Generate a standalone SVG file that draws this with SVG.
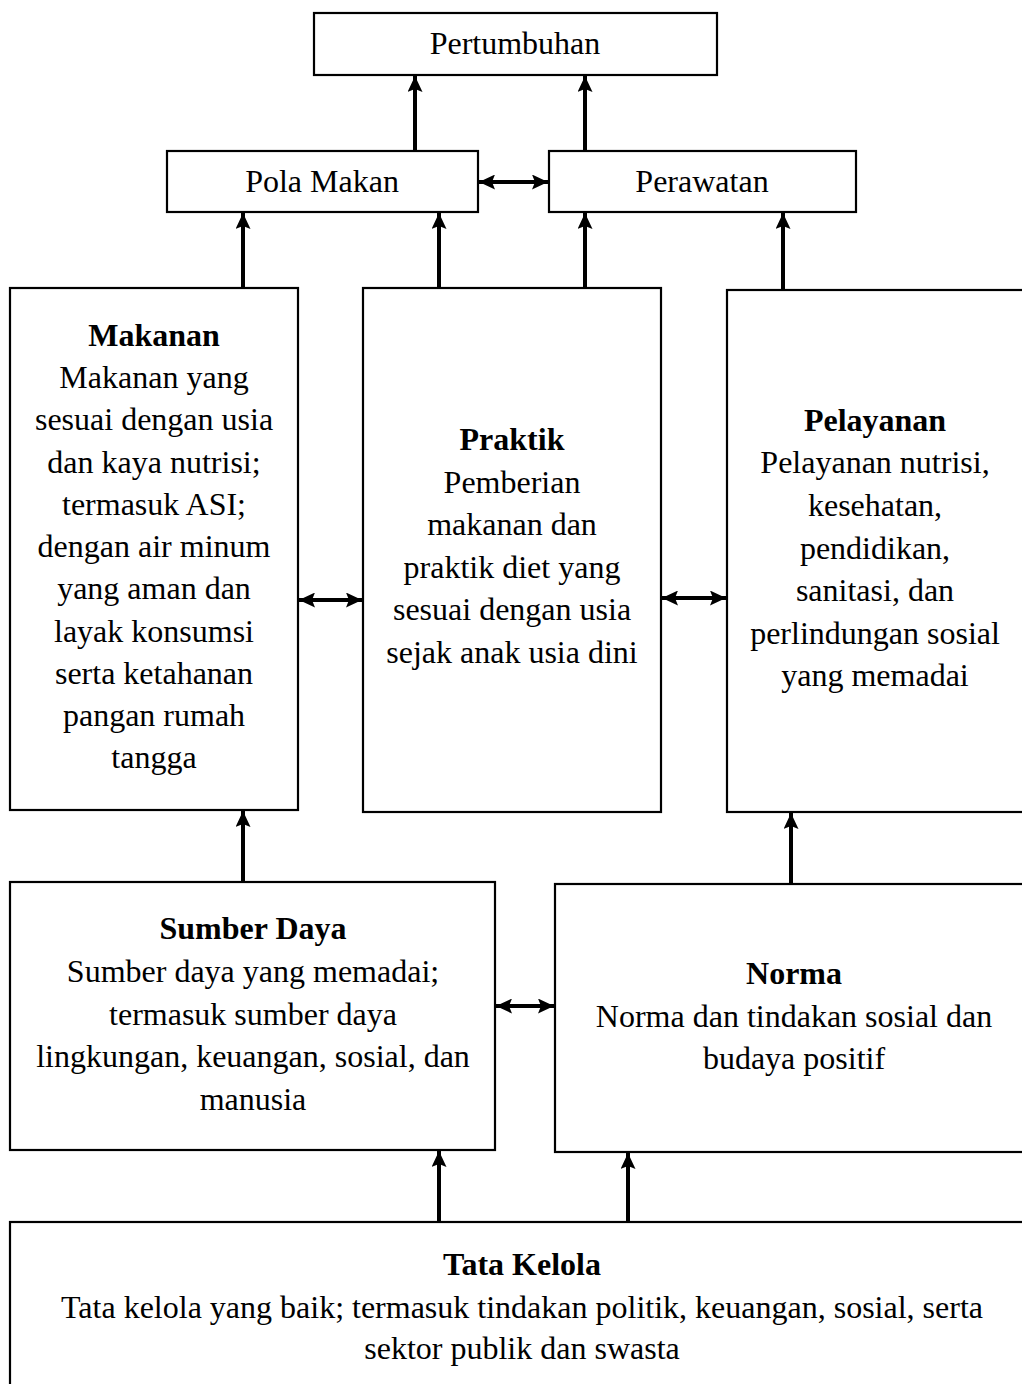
<svg xmlns="http://www.w3.org/2000/svg" width="1022" height="1384" viewBox="0 0 1022 1384">
<style>
.box{fill:#fff;stroke:#000;stroke-width:2.2}
text{font-family:"Liberation Serif","Times New Roman",serif;font-size:32px;fill:#000;text-anchor:middle}
.b{font-weight:bold}
.c{stroke:#000;stroke-width:4;fill:none}
</style>
<defs>
<marker id="ah" markerUnits="userSpaceOnUse" markerWidth="16" markerHeight="15" refX="16" refY="7.5" orient="auto-start-reverse" viewBox="0 0 16 15">
<path d="M0,0 L16,7.5 L0,15 L3,7.5 Z" fill="#000"/>
</marker>
</defs>
<rect width="1022" height="1384" fill="#fff"/>
<g id="pertumbuhan"><rect class="box" x="314" y="13" width="403" height="62"/><text x="515" y="54">Pertumbuhan</text></g>
<g id="pola-makan"><rect class="box" x="167" y="151" width="311" height="61"/><text x="322" y="192">Pola Makan</text></g>
<g id="perawatan"><rect class="box" x="549" y="151" width="307" height="61"/><text x="702" y="192">Perawatan</text></g>
<g id="makanan"><rect class="box" x="10" y="288" width="288" height="522"/>
<text x="154" y="346" class="b">Makanan</text>
<text x="154" y="388">Makanan yang</text>
<text x="154" y="430">sesuai dengan usia</text>
<text x="154" y="473">dan kaya nutrisi;</text>
<text x="154" y="515">termasuk ASI;</text>
<text x="154" y="557">dengan air minum</text>
<text x="154" y="599">yang aman dan</text>
<text x="154" y="642">layak konsumsi</text>
<text x="154" y="684">serta ketahanan</text>
<text x="154" y="726">pangan rumah</text>
<text x="154" y="768">tangga</text>
</g>
<g id="praktik"><rect class="box" x="363" y="288" width="298" height="524"/>
<text x="512" y="450" class="b">Praktik</text>
<text x="512" y="493">Pemberian</text>
<text x="512" y="535">makanan dan</text>
<text x="512" y="578">praktik diet yang</text>
<text x="512" y="620">sesuai dengan usia</text>
<text x="512" y="663">sejak anak usia dini</text>
</g>
<g id="pelayanan"><rect class="box" x="727" y="290" width="310" height="522"/>
<text x="875" y="431" class="b">Pelayanan</text>
<text x="875" y="473">Pelayanan nutrisi,</text>
<text x="875" y="516">kesehatan,</text>
<text x="875" y="559">pendidikan,</text>
<text x="875" y="601">sanitasi, dan</text>
<text x="875" y="644">perlindungan sosial</text>
<text x="875" y="686">yang memadai</text>
</g>
<g id="sumber-daya"><rect class="box" x="10" y="882" width="485" height="268"/>
<text x="253" y="939" class="b">Sumber Daya</text>
<text x="253" y="982">Sumber daya yang memadai;</text>
<text x="253" y="1025">termasuk sumber daya</text>
<text x="253" y="1067">lingkungan, keuangan, sosial, dan</text>
<text x="253" y="1110">manusia</text>
</g>
<g id="norma"><rect class="box" x="555" y="884" width="480" height="268"/>
<text x="794" y="984" class="b">Norma</text>
<text x="794" y="1027">Norma dan tindakan sosial dan</text>
<text x="794" y="1069">budaya positif</text>
</g>
<g id="tata-kelola"><rect class="box" x="10" y="1222" width="1030" height="180"/>
<text x="522" y="1275" class="b">Tata Kelola</text>
<text x="522" y="1318">Tata kelola yang baik; termasuk tindakan politik, keuangan, sosial, serta</text>
<text x="522" y="1359">sektor publik dan swasta</text>
</g>
<g id="connectors">
<line class="c" x1="415" y1="151" x2="415" y2="76" marker-end="url(#ah)"/>
<line class="c" x1="585" y1="151" x2="585" y2="76" marker-end="url(#ah)"/>
<line class="c" x1="479" y1="182" x2="548" y2="182" marker-start="url(#ah)" marker-end="url(#ah)"/>
<line class="c" x1="243" y1="288" x2="243" y2="213" marker-end="url(#ah)"/>
<line class="c" x1="439" y1="288" x2="439" y2="213" marker-end="url(#ah)"/>
<line class="c" x1="585" y1="288" x2="585" y2="213" marker-end="url(#ah)"/>
<line class="c" x1="783" y1="290" x2="783" y2="213" marker-end="url(#ah)"/>
<line class="c" x1="299" y1="600" x2="362" y2="600" marker-start="url(#ah)" marker-end="url(#ah)"/>
<line class="c" x1="662" y1="598" x2="726" y2="598" marker-start="url(#ah)" marker-end="url(#ah)"/>
<line class="c" x1="243" y1="882" x2="243" y2="811" marker-end="url(#ah)"/>
<line class="c" x1="791" y1="884" x2="791" y2="813" marker-end="url(#ah)"/>
<line class="c" x1="496" y1="1006" x2="554" y2="1006" marker-start="url(#ah)" marker-end="url(#ah)"/>
<line class="c" x1="439" y1="1222" x2="439" y2="1151" marker-end="url(#ah)"/>
<line class="c" x1="628" y1="1222" x2="628" y2="1153" marker-end="url(#ah)"/>
</g>
</svg>
